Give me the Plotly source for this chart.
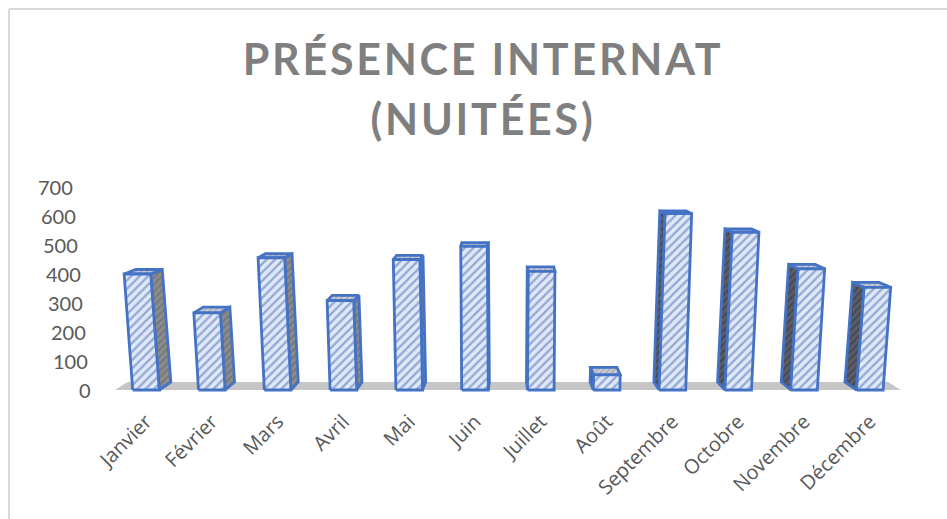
import plotly.graph_objects as go

months = ["Janvier", "Février", "Mars", "Avril", "Mai", "Juin", "Juillet", "Août",
          "Septembre", "Octobre", "Novembre", "Décembre"]
values = [400, 266, 456, 308, 450, 495, 409, 52, 608, 544, 418, 354]
y_ticks = [0, 100, 200, 300, 400, 500, 600, 700]

PX_X, PX_Y = 65.8, 0.29
X0, Y0 = 146, 390
W, H = 947, 519
CENTER = 5.5
LEAN = 0.0039 / PX_X
DEPTH_X = 2.1 / PX_X
DEPTH_Y = 8 / PX_Y
HALF = 13.3 / PX_X
BLUE = "#4472C4"


def front(i, v):
    return i + LEAN * v * (i - CENTER), v


def back(i, v):
    return (i + LEAN * v * (i - CENTER) - DEPTH_X * (i - CENTER),
            v * 0.97 + DEPTH_Y)


def face(pts, bg, fg, size=6, lw=2.8, solidity=0.3):
    xs = [p[0] for p in pts] + [pts[0][0]]
    ys = [p[1] for p in pts] + [pts[0][1]]
    return go.Scatter(x=xs, y=ys, mode="lines", fill="toself",
                      fillcolor=bg,
                      fillpattern=dict(shape="/", size=size, solidity=solidity,
                                       bgcolor=bg, fgcolor=fg),
                      line=dict(color=BLUE, width=lw, shape="linear"),
                      hoverinfo="skip", showlegend=False)


def shift(p, dx):
    return p[0] + dx, p[1]


fig = go.Figure()

# floor
ends = (-0.47, 11.47)
fl = [front(ends[0], 0), back(ends[0], 0), back(ends[1], 0), front(ends[1], 0)]
fig.add_trace(go.Scatter(x=[p[0] for p in fl] + [fl[0][0]],
                         y=[p[1] for p in fl] + [fl[0][1]],
                         mode="lines", fill="toself", fillcolor="#C6C6C6",
                         line=dict(width=0), hoverinfo="skip", showlegend=False))

for i, v in enumerate(values):
    fb = front(i, 0)
    ft = front(i, v)
    bb = back(i, 0)
    bt = back(i, v)
    # visible side faces the chart centre
    sgn = 1 if i < CENTER else -1
    side = [shift(ft, sgn * HALF), shift(bt, sgn * HALF),
            shift(bb, sgn * HALF), shift(fb, sgn * HALF)]
    side_fg = "#5E6068" if i < CENTER else "#2F3340"
    side_bg = "#8C8C8C" if i < CENTER else "#5A5D68"
    fig.add_trace(face(side, side_bg, side_fg, size=5, solidity=0.35))
    top = [shift(ft, -HALF), shift(bt, -HALF), shift(bt, HALF), shift(ft, HALF)]
    fig.add_trace(face(top, "#C9CDD6", "#7D8290", size=4))
    fr = [shift(fb, -HALF), shift(ft, -HALF), shift(ft, HALF), shift(fb, HALF)]
    fig.add_trace(face(fr, "#E1E8F6", "#3F6ABB", size=6, solidity=0.38))

xr = [(0 - X0) / PX_X, (W - X0) / PX_X]
yr = [(Y0 - H) / PX_Y, Y0 / PX_Y]

annotations = []
for t in y_ticks:
    x, y = front(-0.81, t)
    annotations.append(dict(x=x, y=y, xref="x", yref="y", text=str(t), showarrow=False,
                            xanchor="right", yanchor="middle",
                            font=dict(family="Lato", size=20, color="#595959")))

fig.update_layout(
    width=W, height=H, margin=dict(l=0, r=0, t=0, b=0, pad=0),
    paper_bgcolor="white", plot_bgcolor="white",
    title=dict(text="PRÉSENCE INTERNAT<br>(NUITÉES)", x=483 / W, xanchor="center",
               y=1 - 75 / H, yanchor="top",
               font=dict(family="Lato", size=43, weight="bold", color="#7F7F7F")),
    xaxis=dict(range=xr, tickmode="array", tickvals=list(range(12)), ticktext=months,
               tickangle=-45, showgrid=False, zeroline=False, showline=False,
               anchor="free", position=(H - Y0) / H, ticks="", ticklabelstandoff=15,
               tickfont=dict(family="Open Sans", size=20, color="#595959"), domain=[0, 1]),
    yaxis=dict(range=yr, showgrid=False, zeroline=False, showticklabels=False,
               tickmode="array", tickvals=y_ticks, ticks="", domain=[0, 1]),
    annotations=annotations,
    shapes=[
        dict(type="line", xref="paper", yref="paper", x0=9 / W, x1=9 / W, y0=0, y1=1 - 9 / H,
             line=dict(color="#D9D9D9", width=2)),
        dict(type="line", xref="paper", yref="paper", x0=9 / W, x1=1, y0=1 - 9 / H, y1=1 - 9 / H,
             line=dict(color="#D9D9D9", width=2)),
    ],
)

post = """
document.body.style.margin='0';
document.documentElement.style.overflow='hidden';
document.querySelectorAll('.gtitle').forEach(function(t){
  t.style.letterSpacing='2.75px';
  t.querySelectorAll('tspan.line').forEach(function(s,k){ if(k>0){ s.setAttribute('dy','1.4em'); } });
});
"""
fig.write_html("out.html", post_script=post, config={"displayModeBar": False})
